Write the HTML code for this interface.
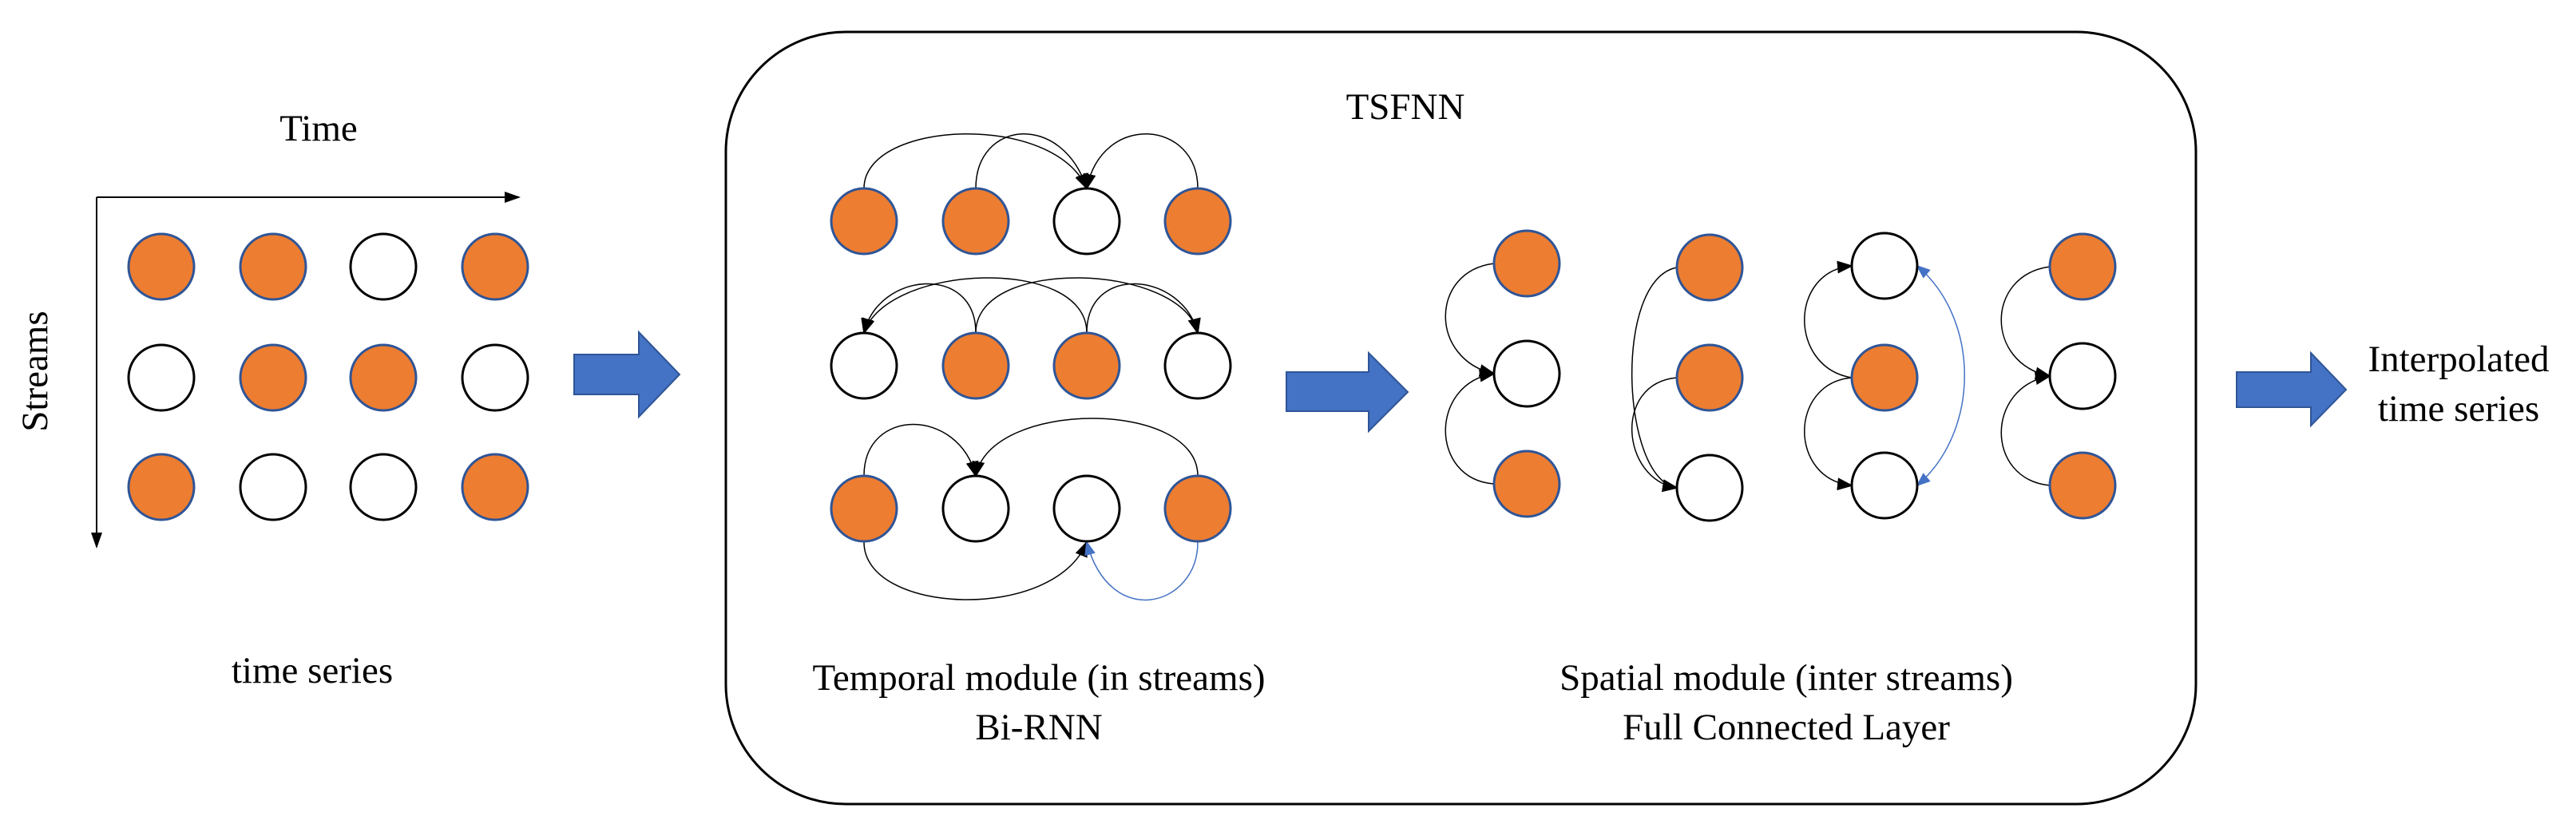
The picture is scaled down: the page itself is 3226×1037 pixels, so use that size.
<!DOCTYPE html>
<html><head><meta charset="utf-8"><style>
html,body{margin:0;padding:0;background:#fff;}
svg{display:block;}
svg text{font-family:"Liberation Serif","DejaVu Serif",serif;fill:#000;}
</style></head><body>
<svg width="3226" height="1037" viewBox="0 0 3226 1037" xmlns="http://www.w3.org/2000/svg" font-family="Liberation Serif, DejaVu Serif, serif">
<defs>
<marker id="ab" markerWidth="20" markerHeight="20" refX="18" refY="10" orient="auto" markerUnits="userSpaceOnUse" viewBox="0 0 20 20"><path d="M0,2 L20,10 L0,18 z" fill="#000"/></marker>
<marker id="bl" markerWidth="18" markerHeight="18" refX="16" refY="9" orient="auto" markerUnits="userSpaceOnUse" viewBox="0 0 18 18"><path d="M0,2 L18,9 L0,16 z" fill="#4472C4"/></marker>
<marker id="bls" markerWidth="18" markerHeight="18" refX="2" refY="9" orient="auto" markerUnits="userSpaceOnUse" viewBox="0 0 18 18"><path d="M18,2 L0,9 L18,16 z" fill="#4472C4"/></marker>
<marker id="ax" markerWidth="20" markerHeight="20" refX="18" refY="10" orient="auto" markerUnits="userSpaceOnUse" viewBox="0 0 20 20"><path d="M0,3 L20,10 L0,17 z" fill="#000"/></marker>
</defs>

<line x1="121" y1="247" x2="650" y2="247" stroke="#000" stroke-width="2" marker-end="url(#ax)"/>
<line x1="121" y1="247" x2="121" y2="685" stroke="#000" stroke-width="2" marker-end="url(#ax)"/>
<g font-family="Liberation Serif, DejaVu Serif, serif" font-size="47">
<text x="399" y="176" text-anchor="middle">Time</text>
<text transform="translate(59,465) rotate(-90)" text-anchor="middle">Streams</text>
<text x="391" y="855" text-anchor="middle">time series</text>
<text x="1760" y="149" text-anchor="middle">TSFNN</text>
<text x="1301" y="864" text-anchor="middle">Temporal module (in streams)</text>
<text x="1301" y="926" text-anchor="middle">Bi-RNN</text>
<text x="2237" y="864" text-anchor="middle">Spatial module (inter streams)</text>
<text x="2237" y="926" text-anchor="middle">Full Connected Layer</text>
<text x="3079" y="465" text-anchor="middle">Interpolated</text>
<text x="3079" y="527" text-anchor="middle">time series</text>
</g>

<g stroke-width="3">
<circle cx="202" cy="334" r="41" fill="#ED7D31" stroke="#2F5597"/>
<circle cx="342" cy="334" r="41" fill="#ED7D31" stroke="#2F5597"/>
<circle cx="480" cy="334" r="41" fill="#fff" stroke="#000"/>
<circle cx="620" cy="334" r="41" fill="#ED7D31" stroke="#2F5597"/>
<circle cx="202" cy="473" r="41" fill="#fff" stroke="#000"/>
<circle cx="342" cy="473" r="41" fill="#ED7D31" stroke="#2F5597"/>
<circle cx="480" cy="473" r="41" fill="#ED7D31" stroke="#2F5597"/>
<circle cx="620" cy="473" r="41" fill="#fff" stroke="#000"/>
<circle cx="202" cy="610" r="41" fill="#ED7D31" stroke="#2F5597"/>
<circle cx="342" cy="610" r="41" fill="#fff" stroke="#000"/>
<circle cx="480" cy="610" r="41" fill="#fff" stroke="#000"/>
<circle cx="620" cy="610" r="41" fill="#ED7D31" stroke="#2F5597"/>
</g>

<path d="M719,444 L800,444 L800,416 L851,469 L800,522 L800,494 L719,494 Z" fill="#4472C4" stroke="#2F5597" stroke-width="2"/>
<path d="M1611,466 L1714,466 L1714,442 L1763,491 L1714,540 L1714,515 L1611,515 Z" fill="#4472C4" stroke="#2F5597" stroke-width="2"/>
<path d="M2801,466 L2894,466 L2894,442 L2938,488 L2894,533 L2894,510 L2801,510 Z" fill="#4472C4" stroke="#2F5597" stroke-width="2"/>

<rect x="909" y="40" width="1841" height="967" rx="150" ry="150" fill="none" stroke="#000" stroke-width="3"/>

<g fill="none" stroke="#000" stroke-width="1.5">
<path d="M1082,236 C1082,150 1320,140 1361,236" marker-end="url(#ab)"/>
<path d="M1222,236 C1222,150 1330,140 1361,236" marker-end="url(#ab)"/>
<path d="M1500,236 C1500,150 1380,140 1361,236" marker-end="url(#ab)"/>
<path d="M1222,417 C1222,330 1100,340 1082,417" marker-end="url(#ab)"/>
<path d="M1361,417 C1361,320 1110,330 1082,417" marker-end="url(#ab)"/>
<path d="M1222,417 C1222,320 1480,330 1500,417" marker-end="url(#ab)"/>
<path d="M1361,417 C1361,330 1480,340 1500,417" marker-end="url(#ab)"/>
<path d="M1082,596 C1082,510 1200,510 1222,596" marker-end="url(#ab)"/>
<path d="M1500,596 C1500,500 1240,500 1222,596" marker-end="url(#ab)"/>
<path d="M1082,679 C1082,770 1320,780 1361,679" marker-end="url(#ab)"/>
<path d="M1500,679 C1500,760 1390,790 1361,679" stroke="#4472C4" marker-end="url(#bl)"/>
</g>
<g stroke-width="3">
<circle cx="1082" cy="277" r="41" fill="#ED7D31" stroke="#2F5597"/>
<circle cx="1222" cy="277" r="41" fill="#ED7D31" stroke="#2F5597"/>
<circle cx="1361" cy="277" r="41" fill="#fff" stroke="#000"/>
<circle cx="1500" cy="277" r="41" fill="#ED7D31" stroke="#2F5597"/>
<circle cx="1082" cy="458" r="41" fill="#fff" stroke="#000"/>
<circle cx="1222" cy="458" r="41" fill="#ED7D31" stroke="#2F5597"/>
<circle cx="1361" cy="458" r="41" fill="#ED7D31" stroke="#2F5597"/>
<circle cx="1500" cy="458" r="41" fill="#fff" stroke="#000"/>
<circle cx="1082" cy="637" r="41" fill="#ED7D31" stroke="#2F5597"/>
<circle cx="1222" cy="637" r="41" fill="#fff" stroke="#000"/>
<circle cx="1361" cy="637" r="41" fill="#fff" stroke="#000"/>
<circle cx="1500" cy="637" r="41" fill="#ED7D31" stroke="#2F5597"/>
</g>

<g fill="none" stroke="#000" stroke-width="1.5">
<path d="M1871,330 C1790,340 1790,450 1871,468" marker-end="url(#ab)"/>
<path d="M1871,606 C1790,600 1790,480 1871,468" marker-end="url(#ab)"/>
<path d="M2100,335 C2020,350 2030,600 2100,611" marker-end="url(#ab)"/>
<path d="M2100,473 C2020,480 2030,600 2100,611" marker-end="url(#ab)"/>
<path d="M2319,473 C2240,460 2240,340 2319,333" marker-end="url(#ab)"/>
<path d="M2319,473 C2240,480 2240,600 2319,608" marker-end="url(#ab)"/>
<path d="M2401,333 C2480,400 2480,540 2401,608" stroke="#4472C4" marker-start="url(#bls)" marker-end="url(#bl)"/>
<path d="M2567,334 C2486,345 2486,455 2567,471" marker-end="url(#ab)"/>
<path d="M2567,608 C2486,600 2486,485 2567,471" marker-end="url(#ab)"/>
</g>
<g stroke-width="3">
<circle cx="1912" cy="330" r="41" fill="#ED7D31" stroke="#2F5597"/>
<circle cx="1912" cy="468" r="41" fill="#fff" stroke="#000"/>
<circle cx="1912" cy="606" r="41" fill="#ED7D31" stroke="#2F5597"/>
<circle cx="2141" cy="335" r="41" fill="#ED7D31" stroke="#2F5597"/>
<circle cx="2141" cy="473" r="41" fill="#ED7D31" stroke="#2F5597"/>
<circle cx="2141" cy="611" r="41" fill="#fff" stroke="#000"/>
<circle cx="2360" cy="333" r="41" fill="#fff" stroke="#000"/>
<circle cx="2360" cy="473" r="41" fill="#ED7D31" stroke="#2F5597"/>
<circle cx="2360" cy="608" r="41" fill="#fff" stroke="#000"/>
<circle cx="2608" cy="334" r="41" fill="#ED7D31" stroke="#2F5597"/>
<circle cx="2608" cy="471" r="41" fill="#fff" stroke="#000"/>
<circle cx="2608" cy="608" r="41" fill="#ED7D31" stroke="#2F5597"/>
</g>
</svg>
</body></html>
